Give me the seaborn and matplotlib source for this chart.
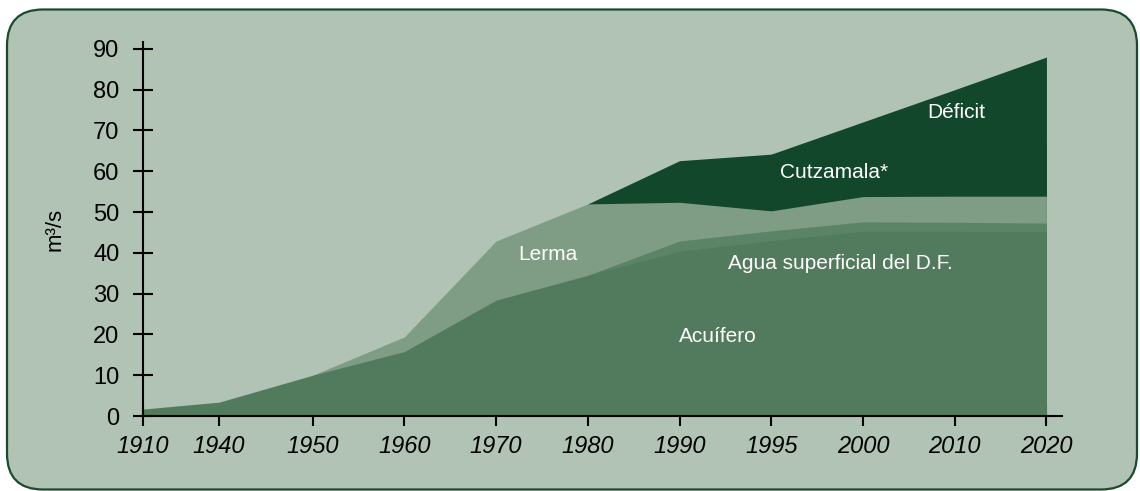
import numpy as np
import matplotlib
matplotlib.use("Agg")
import matplotlib.pyplot as plt
from matplotlib.patches import FancyBboxPatch
import seaborn as sns

# ---- data (m3/s per source) ----
years = ["1910", "1940", "1950", "1960", "1970", "1980", "1990", "1995", "2000", "2010", "2020"]
# horizontal placement of each year on the axis (first gap is shorter)
x_pos = [0, 0.83, 1.85, 2.85, 3.85, 4.85, 5.85, 6.85, 7.85, 8.85, 9.85]

acuifero = [1.7, 3.4, 10.0, 15.8, 28.4, 34.5, 40.4, 43.0, 45.3, 45.3, 45.2]
agua_df = [0, 0, 0, 0, 0, 0, 2.5, 2.4, 2.3, 2.2, 2.1]
lerma = [0, 0, 0, 3.6, 14.5, 17.5, 9.5, 4.9, 6.2, 6.4, 6.6]
cutzamala = [0, 0, 0, 0, 0, 0, 10.2, 13.9, 13.2, 13.1, 13.1]
deficit = [0, 0, 0, 0, 0, 0, 0, 0, 5.1, 13.0, 21.0]

labels = ["Acuífero", "Agua superficial del D.F.", "Lerma", "Cutzamala*", "Déficit"]
colors = ["#527a5c", "#5b8466", "#7f9c84", "#13472b", "#13472b"]

sns.set_theme(style="ticks")
plt.rcParams['font.family'] = ['Liberation Sans', 'DejaVu Sans']

BG = "#b0c3b4"

fig = plt.figure(figsize=(11.4, 4.91), dpi=100)
fig.patch.set_facecolor("white")

# rounded panel behind the chart
panel = FancyBboxPatch((0.07, 0.015), 11.30, 4.80,
                       boxstyle="round,pad=0,rounding_size=0.36",
                       transform=fig.dpi_scale_trans,
                       facecolor=BG, edgecolor="#1b4a2e", linewidth=1.6, zorder=-10)
fig.patches.append(panel)

ax = fig.add_axes([0.1254, 0.1527, 0.8062, 0.7618])
ax.set_facecolor("none")

# stacked areas: fill each cumulative total from zero, top layer first,
# only where the band actually has some thickness (avoids dark seams)
series = np.array([acuifero, agua_df, lerma, cutzamala, deficit])
tops = np.cumsum(series, axis=0)
for i in reversed(range(len(labels))):
    has = series[i] > 0
    mask = has.copy()
    mask[:-1] |= has[1:]
    ax.fill_between(x_pos, 0, tops[i], where=mask, color=colors[i],
                    linewidth=0, label=labels[i])

ax.set_xlim(0, 10.02)
ax.set_ylim(0, 91.7)

ax.set_xticks(x_pos)
ax.set_xticklabels(years, fontsize=17, style="italic")
ax.set_yticks(np.arange(0, 91, 10))
ax.tick_params(axis="y", labelsize=17, pad=10)
ax.tick_params(axis="x", pad=7)
ax.tick_params(direction="inout", length=14, width=1.5, color="black", labelcolor="black")

for s in ["top", "right"]:
    ax.spines[s].set_visible(False)
for s in ["left", "bottom"]:
    ax.spines[s].set_linewidth(1.5)
    ax.spines[s].set_color("black")

ax.set_ylabel("m³/s", fontsize=16, labelpad=20, color="black")

# in-area labels
txt = dict(color="white", fontsize=15, ha="center", va="center")
ax.text(8.87, 74.5, "Déficit", **txt)
ax.text(7.54, 59.8, "Cutzamala*", **txt)
ax.text(4.42, 39.5, "Lerma", **txt)
ax.text(7.6, 37.3, "Agua superficial del D.F.", **txt)
ax.text(6.27, 19.4, "Acuífero", **txt)

fig.savefig("out.png", dpi=100)
